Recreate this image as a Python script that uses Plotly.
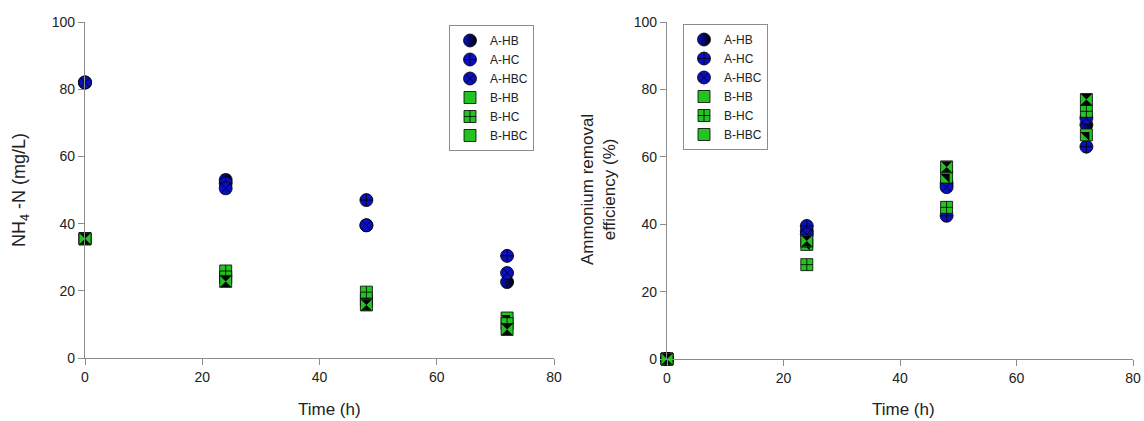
import plotly.graph_objects as go

time = [0, 24, 48, 72]

# NH4-N (mg/L)
nh4_A_HB = [82, 53, 39.5, 22.6]
nh4_A_HC = [82, 52, 47, 30.4]
nh4_A_HBC = [82, 50.5, 39.5, 25.3]
nh4_B_HB = [35.5, 24, 17.3, 11.9]
nh4_B_HC = [35.5, 25.9, 19.6, 10.2]
nh4_B_HBC = [35.5, 22.8, 15.8, 8.5]
nh4_err_A = [0.8, 1.5, 1.2, 1.0]
nh4_err_B = [0.6, 1.0, 1.0, 1.0]

# Ammonium removal efficiency (%)
eff_A_HB = [0, 38, 52, 69.5]
eff_A_HC = [0, 39.5, 42.5, 63]
eff_A_HBC = [0, 37, 51, 71.5]
eff_B_HB = [0, 34, 54, 66.5]
eff_B_HC = [0, 28, 45, 73.5]
eff_B_HBC = [0, 35, 57, 77]
eff_err = [0.5, 1.0, 1.0, 1.0]

names = ["A-HB", "A-HC", "A-HBC", "B-HB", "B-HC", "B-HBC"]
left_series = [nh4_A_HB, nh4_A_HC, nh4_A_HBC, nh4_B_HB, nh4_B_HC, nh4_B_HBC]
right_series = [eff_A_HB, eff_A_HC, eff_A_HBC, eff_B_HB, eff_B_HC, eff_B_HBC]
left_err = [nh4_err_A] * 3 + [nh4_err_B] * 3
right_err = [eff_err] * 6

BLUE = "#0a0fc0"
GREEN = "#22c322"
FONT = "Arial, Liberation Sans, sans-serif"
W, H = 1144, 421

styles = {
    "A-HB": dict(symbol="circle", color=BLUE, gradient=dict(type="horizontal", color="black"), size=13),
    "A-HC": dict(symbol="circle-cross", color=BLUE, size=13),
    "A-HBC": dict(symbol="circle-x", color=BLUE, size=13),
    "B-HB": dict(symbol="square", color=GREEN, size=12),
    "B-HC": dict(symbol="square-cross", color=GREEN, size=12),
    "B-HBC": dict(symbol="square", color=GREEN, size=12),
}
overlays = {
    "B-HB": dict(symbol="triangle-ne", color="black", size=10),
    "B-HBC": dict(symbol="hourglass", color="black", size=11),
}

fig = go.Figure()

for series, errs, xa, ya, lg in [
    (left_series, left_err, "x", "y", "legend"),
    (right_series, right_err, "x2", "y2", "legend2"),
]:
    for name, vals, err in zip(names, series, errs):
        st = styles[name]
        mk = dict(symbol=st["symbol"], color=st["color"], size=st["size"],
                  line=dict(color="black", width=0.8))
        if "gradient" in st:
            mk["gradient"] = st["gradient"]
        fig.add_trace(go.Scatter(
            x=time, y=vals, mode="markers", name=name, marker=mk,
            error_y=dict(type="data", array=err, color="black", thickness=1, width=4),
            xaxis=xa, yaxis=ya, legend=lg, cliponaxis=False,
        ))
        if name in overlays:
            ov = overlays[name]
            fig.add_trace(go.Scatter(
                x=time, y=vals, mode="markers", name=name, showlegend=False,
                marker=dict(symbol=ov["symbol"], color=ov["color"], size=ov["size"],
                            line=dict(width=0)),
                xaxis=xa, yaxis=ya, cliponaxis=False, hoverinfo="skip",
            ))

axis_common = dict(
    showline=True, linecolor="#8c8c8c", linewidth=1.2, ticks="outside",
    tickcolor="#8c8c8c", ticklen=6, showgrid=False, zeroline=False, automargin=False,
    tickfont=dict(family=FONT, size=14, color="#222"),
)

title_font = dict(family=FONT, size=17, color="#222")

fig.update_layout(
    width=W, height=H,
    margin=dict(l=0, r=0, t=0, b=0, autoexpand=False),
    paper_bgcolor="white", plot_bgcolor="white",
    font=dict(family=FONT, color="#222"),
    xaxis=dict(domain=[85 / W, 554 / W], range=[0, 80], tickvals=[0, 20, 40, 60, 80],
               anchor="y", **axis_common),
    yaxis=dict(domain=[(H - 358) / H, (H - 22) / H], range=[0, 100],
               tickvals=[0, 20, 40, 60, 80, 100], anchor="x", **axis_common),
    xaxis2=dict(domain=[667 / W, 1133 / W], range=[0, 80], tickvals=[0, 20, 40, 60, 80],
                anchor="y2", **axis_common),
    yaxis2=dict(domain=[(H - 359) / H, (H - 22) / H], range=[0, 100],
                tickvals=[0, 20, 40, 60, 80, 100], anchor="x2", **axis_common),
    legend=dict(x=449 / W, y=1 - 25 / H, xanchor="left", yanchor="top",
                bordercolor="#8c8c8c", borderwidth=1, bgcolor="white",
                font=dict(family=FONT, size=12, color="#222"), tracegroupgap=0),
    legend2=dict(x=683 / W, y=1 - 24 / H, xanchor="left", yanchor="top",
                 bordercolor="#8c8c8c", borderwidth=1, bgcolor="white",
                 font=dict(family=FONT, size=12, color="#222"), tracegroupgap=0),
    annotations=[
        dict(text="Time (h)", x=330 / W, y=1 - 409 / H, xref="paper", yref="paper",
             xanchor="center", yanchor="middle", showarrow=False, font=title_font),
        dict(text="Time (h)", x=903 / W, y=1 - 409 / H, xref="paper", yref="paper",
             xanchor="center", yanchor="middle", showarrow=False, font=title_font),
        dict(text="NH<sub>4</sub> -N (mg/L)", x=21 / W, y=1 - 190 / H, xref="paper",
             yref="paper", xanchor="center", yanchor="middle", showarrow=False,
             textangle=-90, font=dict(family=FONT, size=18, color="#222")),
        dict(text="Ammonium removal<br>efficiency (%)", x=599 / W, y=1 - 190 / H,
             xref="paper", yref="paper", xanchor="center", yanchor="middle",
             showarrow=False, textangle=-90, font=title_font),
    ],
)

fig.write_html("out.html")
